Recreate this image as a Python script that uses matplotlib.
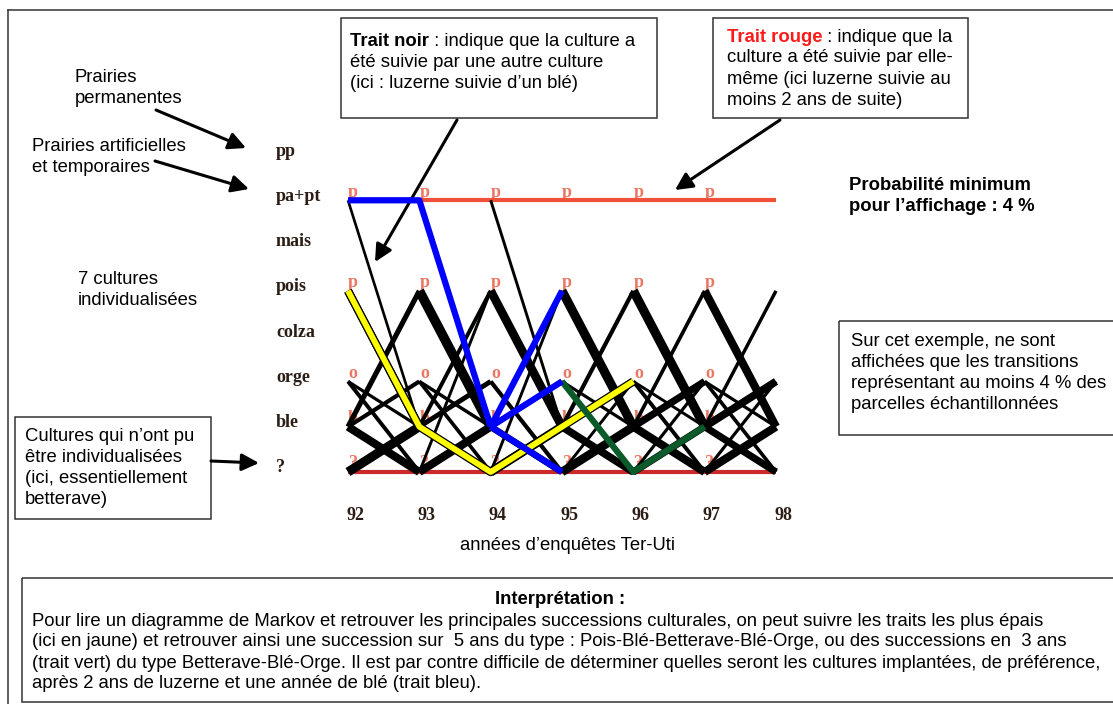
import numpy as np
import matplotlib.pyplot as plt
import matplotlib.patheffects as pe
from matplotlib.patches import Rectangle, FancyArrowPatch
from matplotlib import transforms

# ==================== données ====================
years = [92, 93, 94, 95, 96, 97, 98]
crops = ['pp', 'pa+pt', 'mais', 'pois', 'colza', 'orge', 'ble', '?']
node_letters = {'pa+pt': 'p', 'pois': 'p', 'orge': 'o', 'ble': 'b', '?': '?'}

# transitions (culture année n, culture année n+1, probabilité)
t92 = [('pa+pt', 'ble', .04), ('pois', 'ble', .26), ('ble', 'pois', .14),
       ('ble', 'orge', .10), ('ble', '?', .26), ('?', 'ble', .30),
       ('orge', '?', .09), ('orge', 'ble', .06)]
t93 = [('pois', 'ble', .32), ('ble', 'pois', .09), ('ble', 'orge', .13),
       ('ble', '?', .22), ('?', 'ble', .26), ('orge', '?', .08),
       ('orge', 'ble', .07), ('?', 'pois', .05)]
t94 = [('pa+pt', 'ble', .05), ('pois', 'ble', .28), ('ble', 'pois', .10),
       ('ble', 'orge', .14), ('ble', '?', .20), ('?', 'ble', .30),
       ('orge', '?', .10), ('?', 'pois', .05)]
t95 = [('pois', 'ble', .30), ('ble', 'pois', .10), ('ble', 'orge', .12),
       ('ble', '?', .24), ('?', 'ble', .28), ('orge', '?', .09),
       ('orge', 'ble', .06), ('?', 'orge', .05)]
t96 = [('pois', 'ble', .30), ('ble', 'pois', .08), ('ble', 'orge', .22),
       ('ble', '?', .26), ('?', 'ble', .22), ('orge', '?', .09),
       ('?', 'orge', .06), ('orge', 'ble', .05)]
t97 = [('pois', 'ble', .26), ('ble', 'pois', .07), ('ble', 'orge', .24),
       ('ble', '?', .22), ('?', 'ble', .26), ('orge', '?', .08),
       ('orge', 'ble', .06), ('?', 'orge', .06)]
transitions = [t92, t93, t94, t95, t96, t97]

# traits rouges (culture suivie par elle-même)
self_crops = ['pa+pt', '?']
self_colors = ['#f0503a', '#cc2a2a']

# chemins mis en évidence
yellow_years = [92, 93, 94, 95, 96]
yellow_crops = ['pois', 'ble', '?', 'ble', 'orge']
green_years = [95, 96, 97]
green_crops = ['orge', '?', 'ble']
blue_years = [92, 93, 94]
blue_crops = ['pa+pt', 'pa+pt', 'ble']
blue_next = ['pois', 'orge', '?']

interp_lines = [
    "Pour lire un diagramme de Markov et retrouver les principales successions culturales, on peut suivre les traits les plus épais",
    "(ici en jaune) et retrouver ainsi une succession sur  5 ans du type : Pois-Blé-Betterave-Blé-Orge, ou des successions en  3 ans",
    "(trait vert) du type Betterave-Blé-Orge. Il est par contre difficile de déterminer quelles seront les cultures implantées, de préférence,",
    "après 2 ans de luzerne et une année de blé (trait bleu).",
]
# =================================================

SANS = ['Liberation Sans', 'DejaVu Sans']
SERIF = ['Liberation Serif', 'DejaVu Serif']
FS = 13.3
LS = 1.32

W, H = 1113, 704
fig = plt.figure(figsize=(W / 100, H / 100), dpi=100)

bg = fig.add_axes([0, 0, 1, 1])
bg.set_xlim(0, W)
bg.set_ylim(H, 0)
bg.axis('off')

X0, X1, Y0, Y1 = 348, 776, 155, 472
ax = fig.add_axes([X0 / W, 1 - Y1 / H, (X1 - X0) / W, (Y1 - Y0) / H])
ax.set_xlim(years[0], years[-1])
ax.set_ylim(len(crops) - 1, 0)
ax.axis('off')

ci = {c: i for i, c in enumerate(crops)}

# lettres rouges aux noeuds
lt = transforms.offset_copy(ax.transData, fig, x=5, y=8, units='dots')
for y in years[:-1]:
    for c, l in node_letters.items():
        ax.text(y, ci[c], l, transform=lt, ha='center', va='center', fontsize=13,
                family=SERIF, weight='bold', color='#e8604a', alpha=0.85, zorder=1)

# traits rouges
for c, col in zip(self_crops, self_colors):
    ax.plot(years, [ci[c]] * len(years), color=col, lw=3, zorder=2,
            solid_capstyle='butt', clip_on=False)

# traits noirs
for y, seg in zip(years[:-1], transitions):
    for a, b, p in seg:
        ax.plot([y, y + 1], [ci[a], ci[b]], color='black', lw=1.2 + 18 * p,
                solid_capstyle='butt', zorder=3, clip_on=False)

# chemins en couleur
ax.plot(yellow_years, [ci[c] for c in yellow_crops], color='#ffff00', lw=4.2, zorder=5,
        clip_on=False, solid_capstyle='butt',
        path_effects=[pe.Stroke(linewidth=6.0, foreground='black'), pe.Normal()])
ax.plot(green_years, [ci[c] for c in green_crops], color='#0b5a2a', lw=4.5, zorder=5,
        clip_on=False, solid_capstyle='butt')
ax.plot(blue_years, [ci[c] for c in blue_crops], color='#0000ff', lw=4.5, zorder=6,
        clip_on=False, solid_capstyle='butt')
for c in blue_next:
    ax.plot([blue_years[-1], blue_years[-1] + 1], [ci[blue_crops[-1]], ci[c]],
            color='#0000ff', lw=4.5, zorder=6, clip_on=False, solid_capstyle='butt')

# étiquettes des cultures et des années
ct = transforms.offset_copy(transforms.blended_transform_factory(bg.transData, ax.transData),
                            fig, x=0, y=4, units='dots')
for c in crops:
    ax.text(276, ci[c], c, transform=ct, ha='left', va='center', fontsize=13,
            family=SERIF, weight='bold', color='#2b1d14')
yt = transforms.offset_copy(ax.transData, fig, x=7, y=-43, units='dots')
for y in years:
    ax.text(y, ci['?'], str(y), transform=yt, ha='center', va='center', fontsize=13,
            family=SERIF, weight='bold', color='#2b1d14')

# ==================== annotations ====================
def box(x0, y0, x1, y1):
    bg.add_patch(Rectangle((x0, y0), x1 - x0, y1 - y0, fill=False, ec='#333333', lw=1.1))

def arrow(x0, y0, x1, y1):
    bg.add_patch(FancyArrowPatch((x0, y0), (x1, y1), arrowstyle='-|>', mutation_scale=26,
                                 color='black', lw=2.2, zorder=10, shrinkA=0, shrinkB=0))

def txt(x, y, s, **kw):
    return bg.text(x, y, s, fontsize=FS, family=SANS, va='center', linespacing=LS, **kw)

# cadre extérieur
bg.plot([8, W], [10, 10], color='#333333', lw=1.1)
bg.plot([8, 8], [10, H], color='#333333', lw=1.1)

txt(75, 88, "Prairies\npermanentes")
txt(32, 157, "Prairies artificielles\net temporaires")
txt(78, 290, "7 cultures\nindividualisées")
arrow(156, 110, 246, 148)
arrow(155, 161, 249, 189)

box(15, 417, 211, 519)
txt(25, 468, "Cultures qui n\u2019ont pu\nêtre individualisées\n(ici, essentiellement\nbetterave)")
arrow(211, 461, 259, 463)

box(341, 18, 657, 118)
tn = txt(350, 42, "Trait noir", weight='bold')
bg.annotate(" : indique que la culture a", xy=(1, 0.5), xycoords=tn, va='center',
            fontsize=FS, family=SANS)
txt(350, 73, "été suivie par une autre culture\n(ici : luzerne suivie d\u2019un blé)")
arrow(457, 120, 375, 262)

box(713, 18, 968, 118)
tr = txt(727, 37, "Trait rouge", weight='bold', color='#ff1a1a')
bg.annotate(" : indique que la", xy=(1, 0.5), xycoords=tr, va='center',
            fontsize=FS, family=SANS)
txt(727, 79, "culture a été suivie par elle-\nmême (ici luzerne suivie au\nmoins 2 ans de suite)")
arrow(780, 120, 675, 190)

txt(849, 196, "Probabilité minimum\npour l\u2019affichage : 4 %", weight='bold')

box(839, 321, 1120, 435)
txt(851, 373, "Sur cet exemple, ne sont\naffichées que les transitions\n"
    "représentant au moins 4 % des\nparcelles échantillonnées")

txt(568, 545, "années d\u2019enquêtes Ter-Uti", ha='center')

box(22, 578, 1120, 702)
txt(560, 600, "Interprétation :", weight='bold', ha='center')
for k, line in enumerate(interp_lines):
    txt(32, 621 + 21 * k, line)

plt.savefig('out.png', dpi=100)
